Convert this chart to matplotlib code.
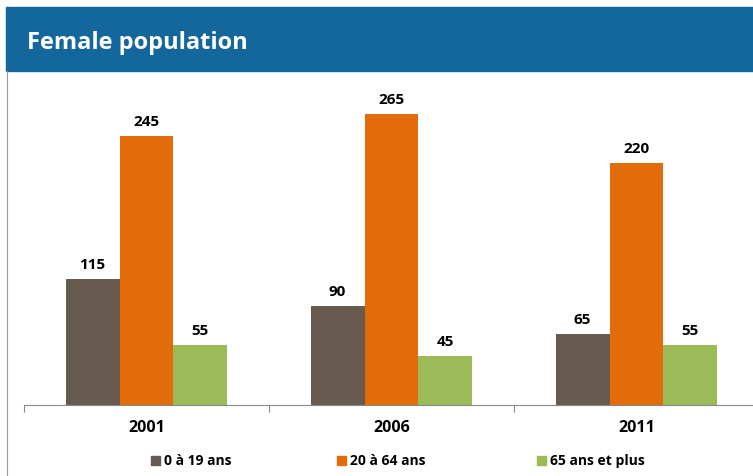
import matplotlib.pyplot as plt
import numpy as np
from matplotlib.patches import Rectangle
from matplotlib.lines import Line2D

years = ['2001', '2006', '2011']
series = ['0 à 19 ans', '20 à 64 ans', '65 ans et plus']
age_0_19 = [115, 90, 65]
age_20_64 = [245, 265, 220]
age_65_plus = [55, 45, 55]
colors = ['#675A4F', '#E26B0A', '#9BBB59']

W, H = 753, 477
fig = plt.figure(figsize=(W / 100, H / 100), dpi=100)

# bandeau titre
fig.patches.append(Rectangle((6 / W, 1 - 72 / H), 1, 64 / H, transform=fig.transFigure,
                             color='#13679C', zorder=0))
fig.text(27 / W, 1 - 43 / H, 'Female population', color='white', fontsize=17,
         fontweight='bold', family='Open Sans', va='center', ha='left')
fig.lines.append(Line2D([7 / W, 7 / W], [0, 1 - 72 / H], transform=fig.transFigure,
                        color='#999999', lw=0.8))

ax = fig.add_axes([24 / W, 1 - 406 / H, 735 / W, 321 / H])
x = np.arange(len(years))
w = 0.22
for i, vals in enumerate([age_0_19, age_20_64, age_65_plus]):
    bars = ax.bar(x + (i - 1) * w, vals, w, color=colors[i], label=series[i])
    for b, v in zip(bars, vals):
        ax.text(b.get_x() + b.get_width() / 2, v + 7, str(v), ha='center', va='bottom',
                fontsize=11, fontweight='bold', family='Open Sans')

ax.set_xlim(-0.5, 2.5)
ax.set_ylim(0, 292)
ax.set_yticks([])
for s in ['top', 'right', 'left']:
    ax.spines[s].set_visible(False)
ax.spines['bottom'].set_color('#888888')
ax.set_xticks([-0.5, 0.5, 1.5, 2.5])
ax.set_xticklabels([])
ax.tick_params(axis='x', length=5, color='#888888', direction='out')
for xi, yr in zip(x, years):
    ax.text(xi, -13, yr, ha='center', va='top', fontsize=11.5, fontweight='bold',
            family='Open Sans', transform=ax.transData)

# légende
leg_x = [151, 337, 537]
for lx, c, s in zip(leg_x, colors, series):
    fig.patches.append(Rectangle((lx / W, 1 - 466 / H), 9 / W, 9 / H,
                                 transform=fig.transFigure, color=c))
    fig.text((lx + 13) / W, 1 - 461 / H, s, fontsize=10, fontweight='bold',
             family='Open Sans', va='center', ha='left')

fig.savefig('out.png', dpi=100)
